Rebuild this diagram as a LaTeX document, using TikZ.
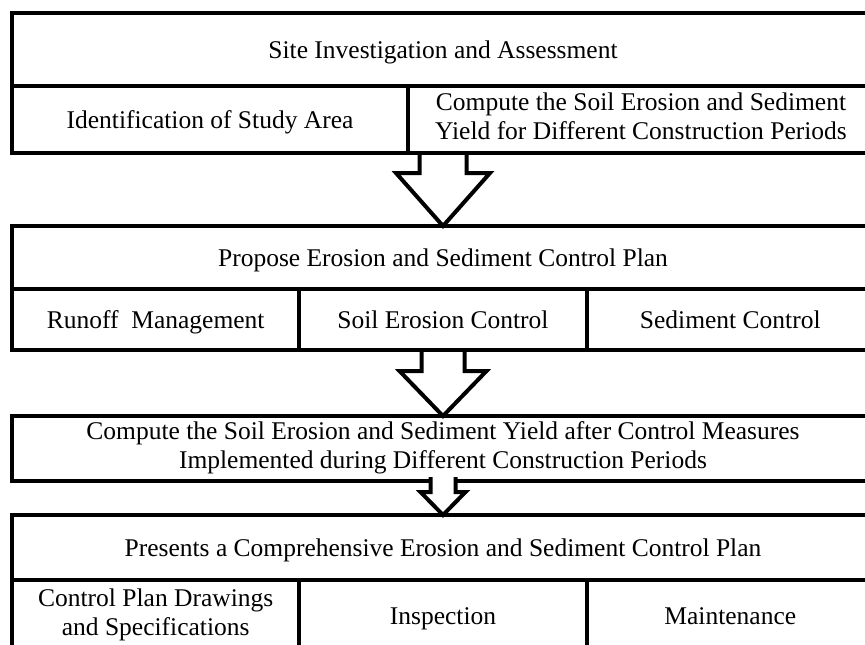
\documentclass[tikz,border=0pt]{standalone}
\usepackage{fontspec}
\setmainfont{Liberation Serif}
\usetikzlibrary{calc}

% fixed top and bottom of the cell text
\newcommand{\topstrut}{\rule{0pt}{25pt}}
\newcommand{\botstrut}{\rule[-7.4pt]{0pt}{7.4pt}}

\tikzset{
    box/.style={draw, rectangle, line width=4pt, inner sep=0pt, outer sep=0pt, align=center,
        font=\fontsize{25.5}{29}\selectfont, execute at begin node=\topstrut, execute at end node=\botstrut},
    blockarrow/.style={draw, fill=white, line width=4pt, line join=miter}
}

\begin{document}
\begin{tikzpicture}[x=1pt,y=1pt]
        \useasboundingbox (0,0) rectangle (865,-645);
        \clip (0,0) rectangle (865,-645);

        % site investigation
        \node[box, minimum width=862pt, minimum height=73pt] (site) at (443,-49.5) {Site Investigation and Assessment};
        \node[box, minimum width=396pt, minimum height=67pt] (studyarea) at (210,-119.5) {Identification of Study Area};
        \node[box, minimum width=466pt, minimum height=67pt] (yield) at (641,-119.5) {Compute the Soil Erosion and Sediment\\Yield for Different Construction Periods};

        % control plan
        \node[box, minimum width=862pt, minimum height=63pt] (plan) at (443,-257.5) {Propose Erosion and Sediment Control Plan};
        \node[box, minimum width=287.3pt, minimum height=61pt] (runoff) at (155.7,-319.5) {Runoff\ \ Management};
        \node[box, minimum width=287.3pt, minimum height=61pt] (erosion) at (443,-319.5) {Soil Erosion Control};
        \node[box, minimum width=287.3pt, minimum height=61pt] (sediment) at (730.3,-319.5) {Sediment Control};

        \node[box, minimum width=862pt, minimum height=65pt] (after) at (443,-448.5) {Compute the Soil Erosion and Sediment Yield after Control Measures\\Implemented during Different Construction Periods};

        % final plan
        \node[box, minimum width=862pt, minimum height=65pt] (final) at (443,-547.5) {Presents a Comprehensive Erosion and Sediment Control Plan};
        \node[box, minimum width=287.3pt, minimum height=72pt] (drawings) at (155.7,-616) {Control Plan Drawings\\and Specifications};
        \node[box, minimum width=287.3pt, minimum height=72pt] (inspection) at (443,-616) {Inspection};
        \node[box, minimum width=287.3pt, minimum height=72pt] (maintenance) at (730.3,-616) {Maintenance};

        % hollow arrows between the stages
        \draw[blockarrow] ($(plan.north |- yield.south)+(-23.5,-2)$) -- ++(0,-18) -- ++(-23.5,0)
            -- (plan.north) -- ++(47,53) -- ++(-23.5,0) -- ++(0,18);
        \draw[blockarrow] ($(after.north |- erosion.south)+(-21.5,-2)$) -- ++(0,-19) -- ++(-22,0)
            -- (after.north) -- ++(43.5,45) -- ++(-22,0) -- ++(0,19);
        \draw[blockarrow] ($(after.south)+(-12.5,4)$) -- ++(0,-15) -- ++(-10,0)
            -- (final.north) -- ++(22.5,23) -- ++(-10,0) -- ++(0,15);
    \end{tikzpicture}
\end{document}
